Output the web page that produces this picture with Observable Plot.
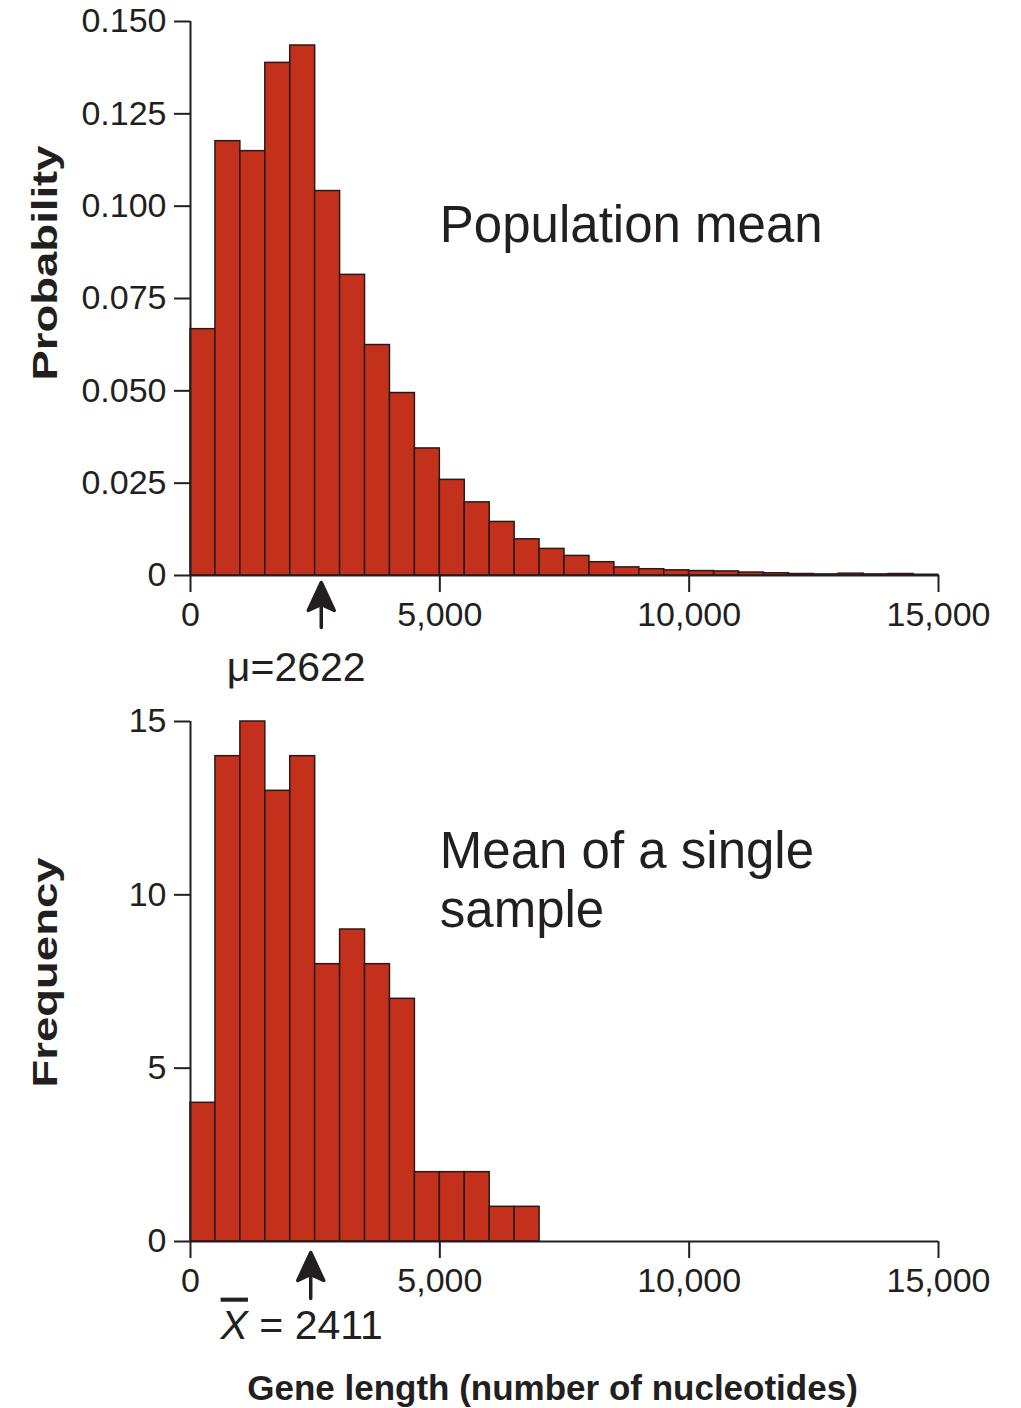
<!DOCTYPE html>
<html>
<head>
<meta charset="utf-8">
<script src="https://cdn.jsdelivr.net/npm/d3@7"></script>
<script src="https://cdn.jsdelivr.net/npm/@observablehq/plot@0.6"></script>
<style>
  body { margin: 0; background: #fff; }
  #chart svg { display: block; }
</style>
</head>
<body>
<div id="chart"></div>
<script>
// ---- data ----
const binWidth = 500;
const popProb = [0.0667, 0.1176, 0.1149, 0.1388, 0.1435, 0.1041, 0.0814, 0.0624, 0.0494, 0.0344,
                 0.0259, 0.0198, 0.0145, 0.0098, 0.0072, 0.0053, 0.0036, 0.0022, 0.0017, 0.0014,
                 0.0012, 0.0011, 0.0008, 0.0006, 0.0004, 0.0003, 0.0005, 0.0003, 0.0004, 0.0002];
const sampleFreq = [4, 14, 15, 13, 14, 8, 9, 8, 7, 2, 2, 2, 1, 1];
const popMean = 2622;
const sampleMean = 2411;
const xTicks = [0, 5000, 10000, 15000];
const probTicks = [0, 0.025, 0.05, 0.075, 0.1, 0.125, 0.15];
const freqTicks = [0, 5, 10, 15];
const popLabel = "Population mean";
const sampleLabel = "Mean of a single\nsample";
const muLabel = "\u03bc=2622";
const xbarLabel = "X = 2411";
const yTitleTop = "Probability";
const yTitleBottom = "Frequency";
const xTitle = "Gene length (number of nucleotides)";

// ---- tables ----
const popData = popProb.map((p, i) => ({x1: i * binWidth, x2: (i + 1) * binWidth, v: p}));
const sampleData = sampleFreq.map((f, i) => ({x1: i * binWidth, x2: (i + 1) * binWidth, v: f}));

const ink = "#231f20";
const red = "#c3301b";
const barStroke = "#2a1a16";
const font = "'Liberation Sans', Arial, Helvetica, sans-serif";

const arrowShape = {
  draw(ctx, l) {
    ctx.moveTo(0, 0);
    ctx.lineTo(0, -l + 20);
    ctx.moveTo(0, -l);
    ctx.lineTo(-13, -l + 28);
    ctx.lineTo(0, -l + 22);
    ctx.lineTo(13, -l + 28);
    ctx.closePath();
  }
};

const probFormat = d => d === 0 ? "0" : d3.format(".3f")(d);

function common(height, marginBottom) {
  return {
    width: 1021, height,
    marginLeft: 190, marginRight: 83, marginTop: 21, marginBottom,
    style: {fontFamily: font, fontSize: "34px", color: ink, background: "white", overflow: "visible"}
  };
}

const topPlot = Plot.plot({
  ...common(700, 125),
  x: {domain: [0, 15000]},
  y: {domain: [0, 0.15]},
  marks: [
    Plot.rectY(popData, {x1: "x1", x2: "x2", y: "v", fill: red, stroke: barStroke, strokeWidth: 1.5}),
    Plot.ruleY([0], {stroke: ink, strokeWidth: 2}),
    Plot.ruleX([0], {stroke: ink, strokeWidth: 2}),
    Plot.axisX({ticks: xTicks, tickFormat: d3.format(","), tickSize: 17, tickPadding: 9, strokeWidth: 2, fontSize: 34, label: null}),
    Plot.axisY({ticks: probTicks, tickFormat: probFormat, tickSize: 16, tickPadding: 8, strokeWidth: 2, fontSize: 34, label: null}),
    Plot.vector([popMean], {x: d => d, y: 0, dy: 52, length: 45, rotate: 0, anchor: "start", shape: arrowShape, stroke: ink, fill: ink, strokeWidth: 3.5}),
    Plot.text([muLabel], {x: popMean, y: 0, text: d => d, dx: -25, dy: 76, lineAnchor: "top", fontSize: 41, fill: ink}),
    Plot.text([popLabel], {x: 5000, y: 0.1, text: d => d, textAnchor: "start", lineAnchor: "top", fontSize: 51, fill: ink}),
    Plot.text([yTitleTop], {text: d => d, frameAnchor: "left", rotate: -90, textAnchor: "start", dx: -145, dy: 82, fontSize: 35, fontWeight: "bold", fill: ink})
  ]
});

const bottomPlot = Plot.plot({
  ...common(708, 167),
  x: {domain: [0, 15000]},
  y: {domain: [0, 15]},
  marks: [
    Plot.rectY(sampleData, {x1: "x1", x2: "x2", y: "v", fill: red, stroke: barStroke, strokeWidth: 1.5}),
    Plot.ruleY([0], {stroke: ink, strokeWidth: 2}),
    Plot.ruleX([0], {stroke: ink, strokeWidth: 2}),
    Plot.axisX({ticks: xTicks, tickFormat: d3.format(","), tickSize: 17, tickPadding: 9, strokeWidth: 2, fontSize: 34, label: null}),
    Plot.axisY({ticks: freqTicks, tickSize: 16, tickPadding: 8, strokeWidth: 2, fontSize: 34, label: null}),
    Plot.vector([sampleMean], {x: d => d, y: 0, dy: 57, length: 46, rotate: 0, anchor: "start", shape: arrowShape, stroke: ink, fill: ink, strokeWidth: 3.5}),
    Plot.text([xbarLabel], {x: sampleMean, y: 0, text: d => d, dx: -9, dy: 68, lineAnchor: "top", fontSize: 41, fill: ink}),
    Plot.text([sampleLabel], {x: 5000, y: 12, text: d => d, textAnchor: "start", lineAnchor: "top", lineHeight: 1.16, fontSize: 51, fill: ink}),
    Plot.text([yTitleBottom], {text: d => d, frameAnchor: "left", rotate: -90, textAnchor: "start", dx: -145, dy: 106, fontSize: 35, fontWeight: "bold", fill: ink}),
    Plot.text([xTitle], {text: d => d, frameAnchor: "bottom", dx: -12, dy: 134, lineAnchor: "top", fontSize: 35, fontWeight: "bold", fill: ink})
  ]
});

const chart = document.getElementById("chart");
chart.appendChild(topPlot);
chart.appendChild(bottomPlot);

// stretch rotated axis titles like the original
function stretch(svg, label, len) {
  d3.select(svg).selectAll("text").filter(function() { return this.textContent === label; })
    .attr("textLength", len).attr("lengthAdjust", "spacingAndGlyphs");
}
stretch(topPlot, yTitleTop, 235);
stretch(bottomPlot, yTitleBottom, 230);

// italic X with overline for the sample mean label
d3.select(bottomPlot).selectAll("text").filter(function() { return this.textContent === xbarLabel; })
  .each(function() {
    const t = d3.select(this);
    t.text(null);
    t.append("tspan").attr("font-style", "italic").style("text-decoration", "overline").text("X");
    t.append("tspan").text(" = 2411");
  });
</script>
</body>
</html>
